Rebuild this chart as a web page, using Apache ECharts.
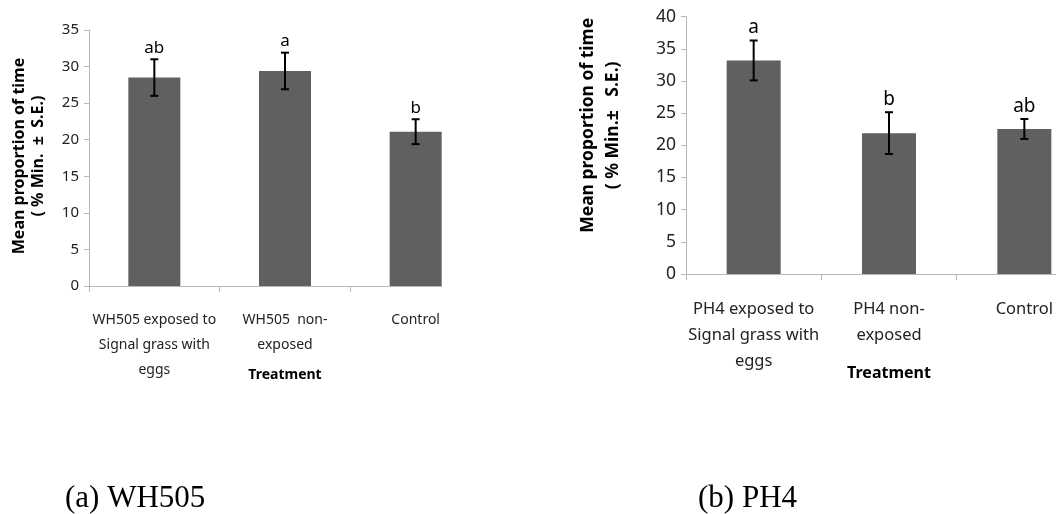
<!DOCTYPE html>
<html><head><meta charset="utf-8">
<script src="https://cdn.jsdelivr.net/npm/echarts@6/dist/echarts.min.js"></script>
<style>html,body{margin:0;padding:0;background:#fff}#c{width:1056px;height:514px}</style>
</head><body><div id="c"></div>
<script>
const catsA = ["WH505 exposed to\nSignal grass with\neggs", "WH505  non-\nexposed", "Control"];
const meanA = [28.5, 29.4, 21.1];
const seA = [2.5, 2.5, 1.7];
const letA = ["ab", "a", "b"];
const ticksA = {min: 0, max: 35, interval: 5};

const catsB = ["PH4 exposed to\nSignal grass with\neggs", "PH4 non-\nexposed", "Control"];
const meanB = [33.2, 21.9, 22.55];
const seB = [3.1, 3.25, 1.55];
const letB = ["a", "b", "ab"];
const ticksB = {min: 0, max: 40, interval: 5};

const FONT = "Noto Sans";
const axisGray = "#b8b8b8";
const barColor = "#606060";

function errSeries(idx, means, ses, letters, fs) {
  return {
    type: 'custom', xAxisIndex: idx, yAxisIndex: idx, z: 5,
    data: means.map((m, i) => [i, m - ses[i], m + ses[i]]),
    renderItem: function (params, api) {
      const x = api.value(0);
      const lo = api.coord([x, api.value(1)]);
      const hi = api.coord([x, api.value(2)]);
      const hw = 4;
      const st = {stroke: '#000', lineWidth: 2};
      return {type: 'group', children: [
        {type: 'line', shape: {x1: lo[0], y1: lo[1], x2: hi[0], y2: hi[1]}, style: st},
        {type: 'line', shape: {x1: lo[0] - hw, y1: lo[1], x2: lo[0] + hw, y2: lo[1]}, style: st},
        {type: 'line', shape: {x1: hi[0] - hw, y1: hi[1], x2: hi[0] + hw, y2: hi[1]}, style: st},
        {type: 'text', x: hi[0], y: hi[1] - 3, style: {text: letters[params.dataIndex], fill: '#000', font: fs + 'px "' + FONT + '"', align: 'center', verticalAlign: 'bottom'}}
      ]};
    }
  };
}

function xAx(idx, cats, fs, lh, margin, nfs, nameGap) {
  return {
    type: 'category', gridIndex: idx, data: cats,
    name: 'Treatment', nameLocation: 'middle', nameGap: nameGap, nameMoveOverlap: false,
    nameTextStyle: {fontFamily: FONT, fontWeight: 'bold', fontSize: nfs, color: '#000'},
    axisLine: {lineStyle: {color: axisGray, width: 1}},
    axisTick: {show: true, length: 6, lineStyle: {color: axisGray}},
    axisLabel: {fontFamily: FONT, fontSize: fs, color: '#222', lineHeight: lh, margin: margin, interval: 0}
  };
}
function yAx(idx, t, fs, name, nfs, nlh, gap, shiftUp) {
  return {
    type: 'value', gridIndex: idx, min: t.min, max: t.max, interval: t.interval,
    name: name, nameLocation: 'middle', nameRotate: 90, nameGap: gap, nameMoveOverlap: false,
    nameTextStyle: {fontFamily: FONT, fontWeight: 'bold', fontSize: nfs, color: '#000', lineHeight: nlh,
      padding: [0, 0, 0, shiftUp * 2]},
    axisLine: {show: true, lineStyle: {color: axisGray}},
    axisTick: {show: true, length: 5, lineStyle: {color: axisGray}},
    splitLine: {show: false},
    axisLabel: {fontFamily: FONT, fontSize: fs, color: '#222', margin: 10}
  };
}

const chart = echarts.init(document.getElementById('c'), null, {renderer: 'canvas'});
chart.setOption({
  animation: false,
  backgroundColor: '#fff',
  grid: [
    {left: 89, top: 30, width: 392, height: 256, outerBoundsMode: 'none', containLabel: false},
    {left: 686, top: 16.7, width: 406, height: 257.3, outerBoundsMode: 'none', containLabel: false}
  ],
  xAxis: [xAx(0, catsA, 14, 25, 22, 14, 82), xAx(1, catsB, 16.5, 26, 22, 16, 91)],
  yAxis: [
    yAx(0, ticksA, 15, 'Mean proportion of time\n( % Min.  ±  S.E.)', 16, 19, 41, 2),
    yAx(1, ticksB, 17.5, 'Mean proportion of time\n( % Min.±   S.E.)', 17.5, 25, 60, 20)
  ],
  series: [
    {type: 'bar', xAxisIndex: 0, yAxisIndex: 0, data: meanA, barWidth: 52, itemStyle: {color: barColor}},
    {type: 'bar', xAxisIndex: 1, yAxisIndex: 1, data: meanB, barWidth: 54, itemStyle: {color: barColor}},
    errSeries(0, meanA, seA, letA, 17),
    errSeries(1, meanB, seB, letB, 19)
  ],
  graphic: [
    {type: 'rect', shape: {x: 442, y: 0, width: 100, height: 300}, style: {fill: '#fff'}, z: 100},
    {type: 'text', left: 65, top: 483, style: {text: '(a) WH505', font: '31px "Liberation Serif"', fill: '#000'}, z: 100},
    {type: 'text', left: 698, top: 483, style: {text: '(b) PH4', font: '31px "Liberation Serif"', fill: '#000'}, z: 100}
  ]
});
</script></body></html>
